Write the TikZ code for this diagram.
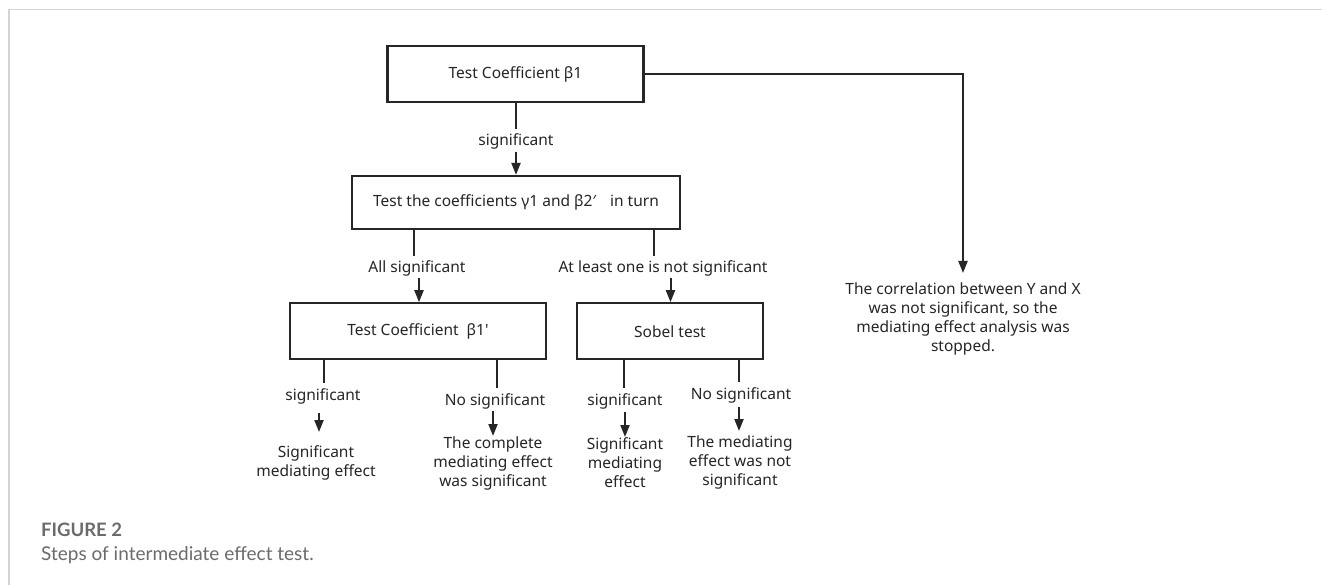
\documentclass[tikz,border=0pt]{standalone}
\usepackage{fontspec}
\setmainfont{Noto Sans}
\newfontfamily\capfont{Lato}
\usetikzlibrary{arrows.meta}
\definecolor{ink}{HTML}{262626}
\definecolor{framegray}{HTML}{D4D4D4}
\definecolor{capgray}{HTML}{6B6B6B}
\begin{document}
\begin{tikzpicture}[x=1pt,y=-1pt,
  box/.style={draw=ink, line width=2.2pt, minimum width=#1, minimum height=56pt, inner sep=0pt, font=\fontsize{15.5}{19}\selectfont, text=ink},
  lbl/.style={font=\fontsize{15.5}{19}\selectfont, text=ink, inner sep=0pt},
  res/.style={font=\fontsize{15.5}{19}\selectfont, text=ink, align=center, inner sep=0pt},
  conn/.style={draw=ink, line width=2pt},
  arr/.style={conn, -{Triangle[length=12pt,width=9pt]}},
]
\useasboundingbox (0,0) rectangle (1322,585);
\fill[white] (0,0) rectangle (1322,585);
\draw[framegray, line width=1.5pt] (9,585) -- (9,9.5) -- (1322,9.5);

% boxes
\node[box=256pt] (b1) at (515.5,74) {Test Coefficient β1};
\node[box=328pt, minimum height=53pt] (b2) at (516,202.5) {Test the coefficients γ1 and β2′\hspace{10pt} in turn};
\node[box=256pt] (b3) at (418,331.3) {Test Coefficient\hspace{4pt} β1\textquotesingle};
\node[box=186pt] (b4) at (670,331.3) {Sobel test};

% labels
\node[lbl] (l1) at (516,141) {significant};
\node[lbl] (l2) at (417,268) {All significant};
\node[lbl] (l3) at (663,268) {At least one is not significant};
\node[lbl] (l4) at (323,396) {significant};
\node[lbl] (l5) at (495,401) {No significant};
\node[lbl] (l6) at (625,401) {significant};
\node[lbl] (l7) at (741,395) {No significant};

% results
\node[res] (r1) at (316,463) {Significant\\mediating effect};
\node[res] (r2) at (493,463) {The complete\\mediating effect\\was significant};
\node[res] (r3) at (625,463) {Significant\\mediating\\effect};
\node[res] (r4) at (740,462.5) {The mediating\\effect was not\\significant};
\node[res] (r5) at (963,318.5) {The correlation between Y and X\\was not significant, so the\\mediating effect analysis was\\stopped.};

% caption
\node[anchor=west, inner sep=0pt, text=capgray, font=\capfont\bfseries\fontsize{18.5}{20}\selectfont] (fig) at (41,530) {FIGURE 2};
\node[anchor=west, inner sep=0pt, text=capgray, font=\capfont\fontsize{19}{20}\selectfont] (cap) at (41,555) {Steps of intermediate effect test.};

% coordinates
\coordinate (c1a) at (515.5,129); \coordinate (c1b) at (516,152);
\coordinate (c0t) at (963,273);
\coordinate (c2a) at (413.5,256); \coordinate (c2b) at (419,278);
\coordinate (c3a) at (654,256);   \coordinate (c3b) at (670.5,278);
\coordinate (c4a) at (324,383);   \coordinate (c4b) at (319,413);   \coordinate (t4) at (319,432);
\coordinate (c5a) at (497,388);   \coordinate (c5b) at (493,411);   \coordinate (t5) at (493,436);
\coordinate (c6a) at (624,388);   \coordinate (c6b) at (625,412);   \coordinate (t6) at (625,437);
\coordinate (c7a) at (739,382);   \coordinate (c7b) at (739,407);   \coordinate (t7) at (739,431);

% connectors
\draw[conn] (b1.south) -- (c1a);
\draw[arr] (c1b) -- (c1b |- b2.north);
\draw[arr] (b1.east) -| (c0t);

\draw[conn] (b2.south -| c2a) -- (c2a);
\draw[arr] (c2b) -- (c2b |- b3.north);
\draw[conn] (b2.south -| c3a) -- (c3a);
\draw[arr] (c3b) -- (c3b |- b4.north);

\draw[conn] (b3.south -| c4a) -- (c4a);
\draw[arr] (c4b) -- (t4);
\draw[conn] (b3.south -| c5a) -- (c5a);
\draw[arr] (c5b) -- (t5);
\draw[conn] (b4.south -| c6a) -- (c6a);
\draw[arr] (c6b) -- (t6);
\draw[conn] (b4.south -| c7a) -- (c7a);
\draw[arr] (c7b) -- (t7);
\end{tikzpicture}
\end{document}
